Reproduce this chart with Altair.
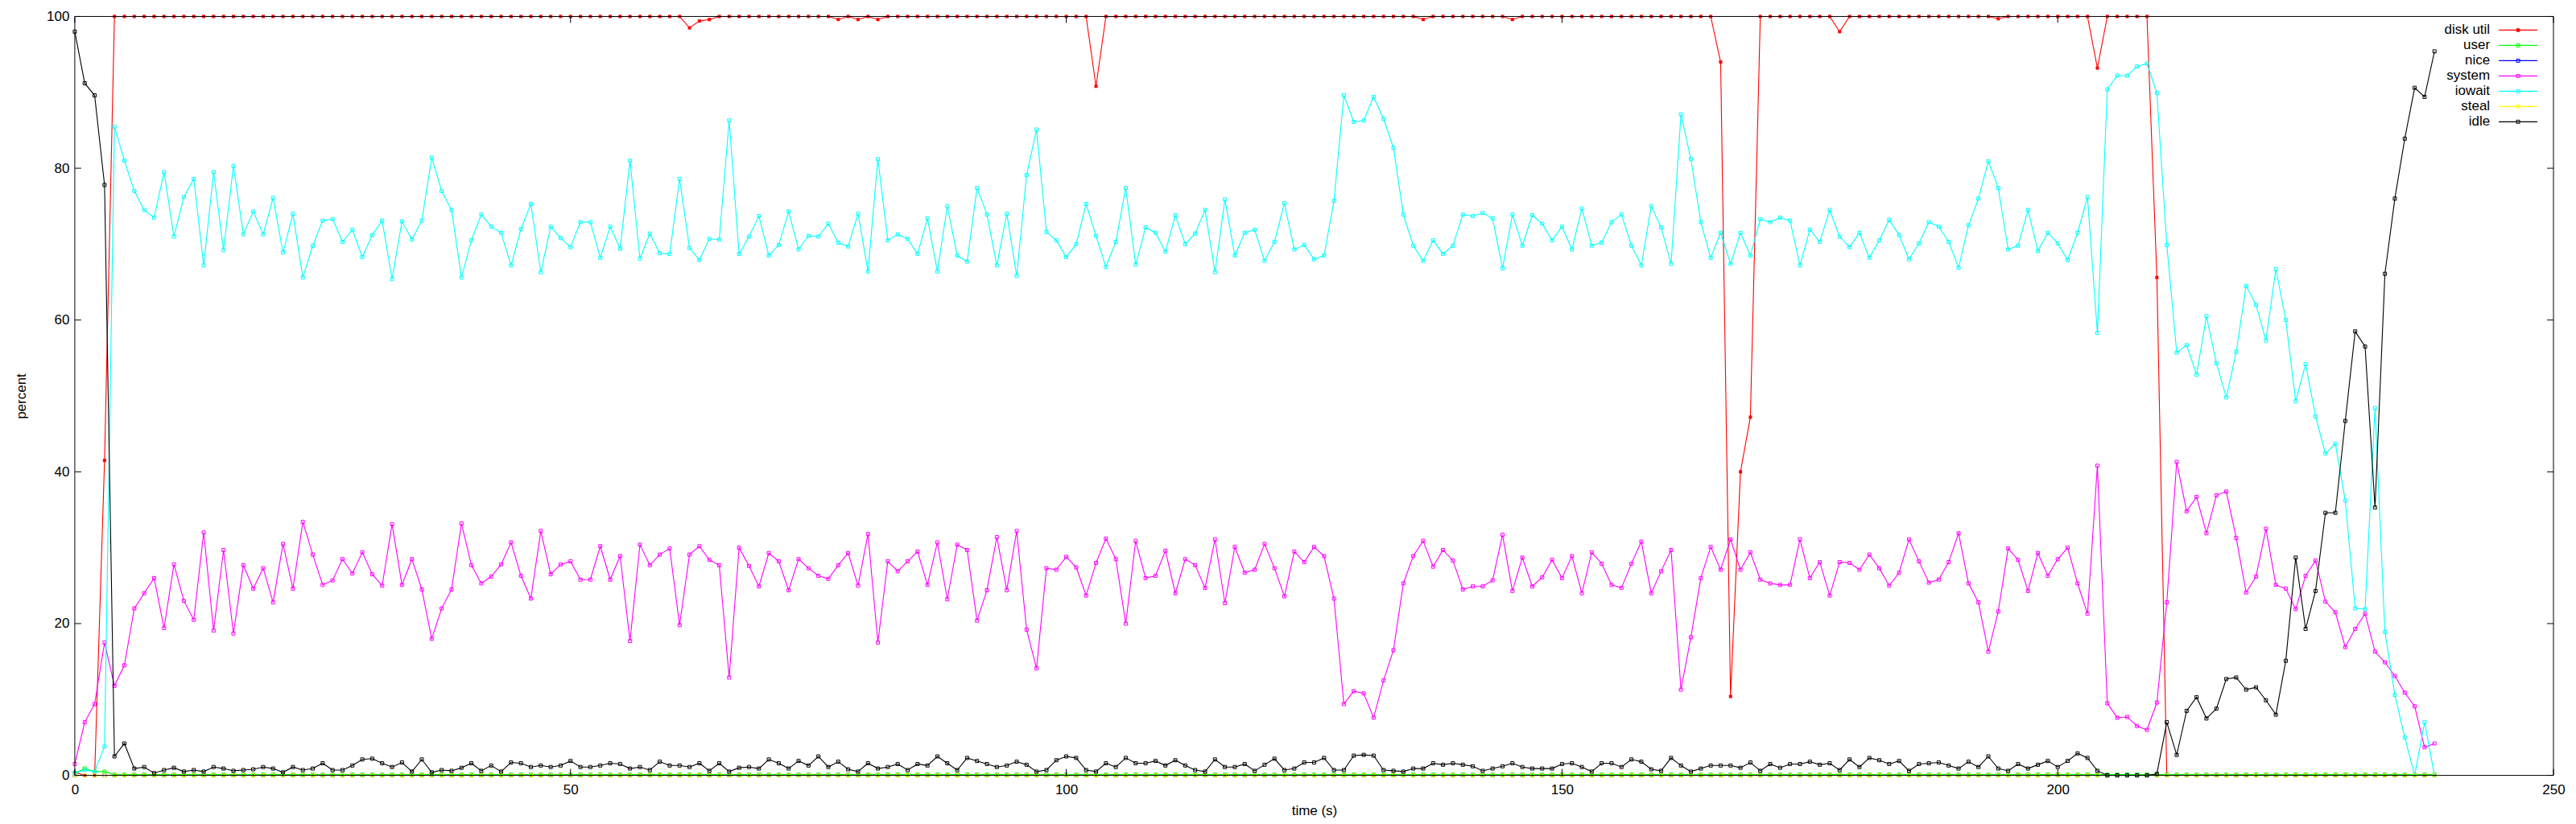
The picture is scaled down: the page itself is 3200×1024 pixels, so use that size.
import altair as alt
import pandas as pd

FONT = "Liberation Sans"

# time in seconds (one sample per second)
time_s = list(range(239))

series_names = ["disk util", "user", "nice", "system", "iowait", "steal", "idle"]
series_colors = ["#ff0000", "#00ff00", "#0000ff", "#ff00ff", "#00ffff", "#ffff00", "#000000"]

x_ticks = [0, 50, 100, 150, 200, 250]
y_ticks = [0, 20, 40, 60, 80, 100]

disk_util = [
    0.4, 0, 0, 41.5, 100, 100, 100, 100, 100, 100, 100, 100, 100, 100, 100, 100, 100, 100, 100, 100,
    100, 100, 100, 100, 100, 100, 100, 100, 100, 100, 100, 100, 100, 100, 100, 100, 100, 100, 100, 100,
    100, 100, 100, 100, 100, 100, 100, 100, 100, 100, 100, 100, 100, 100, 100, 100, 100, 100, 100, 100,
    100, 100, 98.5, 99.4, 99.6, 100, 100, 100, 100, 100, 100, 100, 100, 100, 100, 100, 100, 99.6, 100, 99.6,
    100, 99.6, 100, 100, 100, 100, 100, 100, 100, 100, 100, 100, 100, 100, 100, 100, 100, 100, 100, 100,
    100, 100, 100, 90.8, 100, 100, 100, 100, 100, 100, 100, 100, 100, 100, 100, 100, 100, 100, 100, 100,
    100, 100, 100, 100, 100, 100, 100, 100, 100, 100, 100, 100, 100, 100, 100, 100, 99.6, 100, 100, 100,
    100, 100, 100, 100, 100, 99.6, 100, 100, 100, 100, 100, 100, 100, 100, 100, 100, 100, 100, 100, 100,
    100, 100, 100, 100, 100, 100, 94.0, 10.4, 40.0, 47.2, 100, 100, 100, 100, 100, 100, 100, 100, 98.0, 100,
    100, 100, 100, 100, 100, 100, 100, 100, 100, 100, 100, 100, 100, 100, 99.7, 100, 100, 100, 100, 100,
    100, 100, 100, 100, 93.2, 100, 100, 100, 100, 100, 65.6, 0, 0, 0, 0, 0, 0, 0, 0, 0,
    0, 0, 0, 0, 0, 0, 0, 0, 0, 0, 0, 0, 0, 0, 0, 0, 0, 0, 0,
]

user = [
    0.3, 0.9, 0.5, 0.5, 0.1, 0.1, 0.1, 0.1, 0.1, 0.1, 0.1, 0.1, 0.1, 0.1, 0.1, 0.1, 0.1, 0.1, 0.1, 0.1,
    0.1, 0.1, 0.1, 0.1, 0.1, 0.1, 0.1, 0.1, 0.1, 0.1, 0.1, 0.1, 0.1, 0.1, 0.1, 0.1, 0.1, 0.1, 0.1, 0.1,
    0.1, 0.1, 0.1, 0.1, 0.1, 0.1, 0.1, 0.1, 0.1, 0.1, 0.1, 0.1, 0.1, 0.1, 0.1, 0.1, 0.1, 0.1, 0.1, 0.1,
    0.1, 0.1, 0.1, 0.1, 0.1, 0.1, 0.1, 0.1, 0.1, 0.1, 0.1, 0.1, 0.1, 0.1, 0.1, 0.1, 0.1, 0.1, 0.1, 0.1,
    0.1, 0.1, 0.1, 0.1, 0.1, 0.1, 0.1, 0.1, 0.1, 0.1, 0.1, 0.1, 0.1, 0.1, 0.1, 0.1, 0.1, 0.1, 0.1, 0.1,
    0.1, 0.1, 0.1, 0.1, 0.1, 0.1, 0.1, 0.1, 0.1, 0.1, 0.1, 0.1, 0.1, 0.1, 0.1, 0.1, 0.1, 0.1, 0.1, 0.1,
    0.1, 0.1, 0.1, 0.1, 0.1, 0.1, 0.1, 0.1, 0.1, 0.1, 0.1, 0.1, 0.1, 0.1, 0.1, 0.1, 0.1, 0.1, 0.1, 0.1,
    0.1, 0.1, 0.1, 0.1, 0.1, 0.1, 0.1, 0.1, 0.1, 0.1, 0.1, 0.1, 0.1, 0.1, 0.1, 0.1, 0.1, 0.1, 0.1, 0.1,
    0.1, 0.1, 0.1, 0.1, 0.1, 0.1, 0.1, 0.1, 0.1, 0.1, 0.1, 0.1, 0.1, 0.1, 0.1, 0.1, 0.1, 0.1, 0.1, 0.1,
    0.1, 0.1, 0.1, 0.1, 0.1, 0.1, 0.1, 0.1, 0.1, 0.1, 0.1, 0.1, 0.1, 0.1, 0.1, 0.1, 0.1, 0.1, 0.1, 0.1,
    0.1, 0.1, 0.1, 0.1, 0.1, 0.1, 0.1, 0.1, 0.1, 0.1, 0.1, 0.1, 0.1, 0.1, 0.1, 0.1, 0.1, 0.1, 0.1, 0.1,
    0.1, 0.1, 0.1, 0.1, 0.1, 0.1, 0.1, 0.1, 0.1, 0.1, 0.1, 0.1, 0.1, 0.1, 0.1, 0.1, 0.1, 0.1, 0.1,
]

nice = [
    0, 0, 0, 0, 0, 0, 0, 0, 0, 0, 0, 0, 0, 0, 0, 0, 0, 0, 0, 0,
    0, 0, 0, 0, 0, 0, 0, 0, 0, 0, 0, 0, 0, 0, 0, 0, 0, 0, 0, 0,
    0, 0, 0, 0, 0, 0, 0, 0, 0, 0, 0, 0, 0, 0, 0, 0, 0, 0, 0, 0,
    0, 0, 0, 0, 0, 0, 0, 0, 0, 0, 0, 0, 0, 0, 0, 0, 0, 0, 0, 0,
    0, 0, 0, 0, 0, 0, 0, 0, 0, 0, 0, 0, 0, 0, 0, 0, 0, 0, 0, 0,
    0, 0, 0, 0, 0, 0, 0, 0, 0, 0, 0, 0, 0, 0, 0, 0, 0, 0, 0, 0,
    0, 0, 0, 0, 0, 0, 0, 0, 0, 0, 0, 0, 0, 0, 0, 0, 0, 0, 0, 0,
    0, 0, 0, 0, 0, 0, 0, 0, 0, 0, 0, 0, 0, 0, 0, 0, 0, 0, 0, 0,
    0, 0, 0, 0, 0, 0, 0, 0, 0, 0, 0, 0, 0, 0, 0, 0, 0, 0, 0, 0,
    0, 0, 0, 0, 0, 0, 0, 0, 0, 0, 0, 0, 0, 0, 0, 0, 0, 0, 0, 0,
    0, 0, 0, 0, 0, 0, 0, 0, 0, 0, 0, 0, 0, 0, 0, 0, 0, 0, 0, 0,
    0, 0, 0, 0, 0, 0, 0, 0, 0, 0, 0, 0, 0, 0, 0, 0, 0, 0, 0,
]

system = [
    1.5, 7.0, 9.4, 17.5, 11.8, 14.5, 22.0, 24.0, 26.0, 19.4, 27.8, 23.0, 20.5, 32.0, 19.1, 29.7, 18.7, 27.7, 24.6, 27.3,
    22.8, 30.5, 24.6, 33.4, 29.1, 25.1, 25.7, 28.5, 26.6, 29.4, 26.5, 25.0, 33.1, 25.1, 28.5, 24.5, 18.0, 22.0, 24.5, 33.2,
    27.7, 25.3, 26.2, 27.8, 30.7, 26.3, 23.3, 32.2, 26.5, 27.8, 28.2, 25.8, 25.8, 30.2, 25.8, 28.9, 17.7, 30.4, 27.7, 29.1,
    29.9, 19.8, 29.1, 30.2, 28.4, 27.7, 12.9, 30.0, 27.6, 24.9, 29.3, 28.2, 24.4, 28.5, 27.3, 26.3, 25.9, 27.7, 29.3, 25.0,
    31.8, 17.5, 28.2, 26.9, 28.2, 29.5, 25.1, 30.7, 23.2, 30.4, 29.7, 20.4, 24.4, 31.4, 24.4, 32.2, 19.2, 14.1, 27.3, 27.1,
    28.8, 27.4, 23.7, 28.0, 31.2, 28.5, 20.0, 30.9, 26.0, 26.3, 29.6, 24.0, 28.5, 27.7, 24.7, 31.1, 22.7, 30.1, 26.7, 27.1,
    30.5, 27.3, 23.6, 29.5, 28.1, 30.1, 28.9, 23.3, 9.4, 11.1, 10.8, 7.6, 12.5, 16.5, 25.3, 28.9, 30.9, 27.5, 29.7, 28.3,
    24.5, 24.9, 24.9, 25.7, 31.7, 24.3, 28.7, 24.9, 26.1, 28.4, 26.0, 28.9, 24.0, 29.4, 27.9, 25.1, 24.7, 27.9, 30.8, 24.0,
    26.9, 29.7, 11.3, 18.2, 26.0, 30.1, 27.1, 31.1, 27.1, 29.4, 25.8, 25.3, 25.1, 25.1, 31.1, 26.0, 28.1, 23.7, 28.1, 28.0,
    27.1, 29.1, 27.3, 25.0, 26.7, 31.1, 28.2, 25.4, 25.8, 28.1, 31.9, 25.3, 22.8, 16.3, 21.6, 29.9, 28.4, 24.3, 29.3, 26.3,
    28.5, 30.0, 25.3, 21.3, 40.8, 9.5, 7.6, 7.7, 6.5, 6.0, 9.6, 22.8, 41.3, 34.8, 36.7, 31.9, 36.9, 37.4, 31.3, 24.1,
    26.2, 32.5, 25.1, 24.6, 21.9, 26.3, 28.3, 22.9, 21.5, 16.9, 19.3, 21.3, 16.3, 14.9, 13.1, 10.9, 9.1, 3.7, 4.2,
]

iowait = [
    0.3, 0.7, 0.5, 3.8, 85.5, 81.0, 77.0, 74.5, 73.5, 79.5, 71.0, 76.2, 78.6, 67.2, 79.5, 69.2, 80.3, 71.3, 74.3, 71.3,
    76.1, 68.9, 74.0, 65.6, 69.8, 73.1, 73.3, 70.3, 71.9, 68.3, 71.2, 73.1, 65.4, 73.0, 70.6, 73.1, 81.4, 77.0, 74.5, 65.6,
    70.5, 73.9, 72.3, 71.5, 67.2, 72.0, 75.3, 66.3, 72.3, 70.8, 69.6, 72.9, 72.9, 68.2, 72.3, 69.4, 81.0, 68.1, 71.4, 68.8,
    68.7, 78.6, 69.5, 67.9, 70.7, 70.6, 86.3, 68.7, 71.0, 73.7, 68.5, 69.9, 74.3, 69.3, 71.1, 71.0, 72.7, 70.2, 69.7, 74.0,
    66.4, 81.2, 70.5, 71.3, 70.7, 68.7, 73.4, 66.4, 75.0, 68.5, 67.7, 77.4, 73.9, 67.2, 74.0, 65.8, 79.1, 85.1, 71.6, 70.5,
    68.3, 70.0, 75.3, 71.1, 67.0, 70.3, 77.4, 67.3, 72.2, 71.5, 69.0, 73.8, 70.0, 71.4, 74.5, 66.3, 75.9, 68.5, 71.5, 71.9,
    67.8, 70.3, 75.4, 69.3, 69.9, 68.0, 68.5, 75.7, 89.6, 86.1, 86.3, 89.4, 86.5, 82.7, 73.9, 69.8, 67.8, 70.5, 68.7, 69.8,
    73.9, 73.7, 74.1, 73.4, 66.8, 73.9, 69.8, 73.8, 72.7, 70.5, 72.3, 69.3, 74.7, 69.8, 70.2, 72.9, 73.9, 69.8, 67.2, 75.0,
    72.2, 67.4, 87.1, 81.2, 72.9, 68.2, 71.5, 67.4, 71.5, 68.5, 73.3, 72.9, 73.5, 73.1, 67.2, 71.9, 70.3, 74.5, 71.0, 69.6,
    71.5, 68.2, 70.5, 73.2, 71.2, 68.0, 70.1, 72.9, 72.3, 70.3, 66.9, 72.5, 76.0, 80.9, 77.4, 69.3, 69.8, 74.5, 69.1, 71.5,
    70.1, 67.9, 71.5, 76.2, 58.3, 90.4, 92.2, 92.2, 93.4, 93.8, 89.9, 69.9, 55.7, 56.7, 52.8, 60.5, 54.3, 49.8, 55.8, 64.5,
    62.0, 57.3, 66.7, 60.0, 49.3, 54.2, 47.3, 42.4, 43.7, 36.2, 22.0, 21.9, 48.4, 18.9, 10.6, 5.0, 0.0, 7.0, 0.0,
]

steal = [
    0, 0, 0, 0, 0, 0, 0, 0, 0, 0, 0, 0, 0, 0, 0, 0, 0, 0, 0, 0,
    0, 0, 0, 0, 0, 0, 0, 0, 0, 0, 0, 0, 0, 0, 0, 0, 0, 0, 0, 0,
    0, 0, 0, 0, 0, 0, 0, 0, 0, 0, 0, 0, 0, 0, 0, 0, 0, 0, 0, 0,
    0, 0, 0, 0, 0, 0, 0, 0, 0, 0, 0, 0, 0, 0, 0, 0, 0, 0, 0, 0,
    0, 0, 0, 0, 0, 0, 0, 0, 0, 0, 0, 0, 0, 0, 0, 0, 0, 0, 0, 0,
    0, 0, 0, 0, 0, 0, 0, 0, 0, 0, 0, 0, 0, 0, 0, 0, 0, 0, 0, 0,
    0, 0, 0, 0, 0, 0, 0, 0, 0, 0, 0, 0, 0, 0, 0, 0, 0, 0, 0, 0,
    0, 0, 0, 0, 0, 0, 0, 0, 0, 0, 0, 0, 0, 0, 0, 0, 0, 0, 0, 0,
    0, 0, 0, 0, 0, 0, 0, 0, 0, 0, 0, 0, 0, 0, 0, 0, 0, 0, 0, 0,
    0, 0, 0, 0, 0, 0, 0, 0, 0, 0, 0, 0, 0, 0, 0, 0, 0, 0, 0, 0,
    0, 0, 0, 0, 0, 0, 0, 0, 0, 0, 0, 0, 0, 0, 0, 0, 0, 0, 0, 0,
    0, 0, 0, 0, 0, 0, 0, 0, 0, 0, 0, 0, 0, 0, 0, 0, 0, 0, 0,
]

idle = [
    98.0, 91.2, 89.6, 77.8, 2.5, 4.2, 0.9, 1.1, 0.3, 0.7, 1.0, 0.5, 0.7, 0.5, 1.1, 0.9, 0.6, 0.7, 0.8, 1.1,
    0.9, 0.4, 1.1, 0.7, 0.9, 1.6, 0.7, 0.7, 1.3, 2.1, 2.2, 1.6, 1.1, 1.7, 0.5, 2.1, 0.4, 0.7, 0.6, 1.0,
    1.6, 0.6, 1.3, 0.5, 1.7, 1.6, 1.1, 1.3, 1.1, 1.3, 1.9, 1.1, 1.1, 1.3, 1.6, 1.5, 0.9, 1.1, 0.7, 1.8,
    1.3, 1.3, 1.1, 1.6, 0.6, 1.6, 0.5, 1.0, 1.1, 0.9, 2.1, 1.6, 0.9, 1.9, 1.3, 2.5, 1.1, 1.8, 0.8, 0.5,
    1.6, 0.9, 1.1, 1.5, 0.7, 1.5, 1.3, 2.5, 1.6, 0.7, 2.3, 1.9, 1.5, 1.1, 1.3, 1.8, 1.4, 0.5, 0.7, 2.0,
    2.5, 2.3, 0.7, 0.5, 1.6, 1.1, 2.3, 1.6, 1.6, 1.9, 1.3, 2.0, 1.3, 0.7, 0.5, 2.1, 1.1, 1.1, 1.5, 0.6,
    1.4, 2.2, 0.7, 0.9, 1.7, 1.7, 2.3, 0.7, 0.7, 2.6, 2.7, 2.6, 0.7, 0.6, 0.5, 0.9, 0.9, 1.6, 1.4, 1.6,
    1.4, 1.2, 0.6, 0.9, 1.2, 1.6, 1.1, 0.9, 0.9, 0.9, 1.5, 1.6, 1.1, 0.5, 1.6, 1.6, 1.1, 2.1, 1.8, 0.8,
    0.6, 2.3, 1.3, 0.5, 0.9, 1.3, 1.3, 1.3, 1.0, 1.7, 0.6, 1.5, 1.0, 1.5, 1.5, 1.8, 1.4, 1.6, 0.7, 2.1,
    1.1, 2.3, 2.0, 1.5, 1.9, 0.6, 1.5, 1.6, 1.7, 1.3, 0.9, 1.8, 1.1, 2.5, 0.9, 0.6, 1.5, 0.9, 1.4, 1.9,
    1.1, 1.9, 2.9, 2.3, 0.6, 0.0, 0.0, 0.0, 0.0, 0.0, 0.2, 7.0, 2.7, 8.5, 10.3, 7.5, 8.8, 12.7, 12.9, 11.3,
    11.6, 9.9, 8.0, 15.1, 28.7, 19.3, 24.3, 34.6, 34.6, 46.7, 58.5, 56.5, 35.3, 66.1, 76.0, 83.9, 90.6, 89.4, 95.4,
]

series_values = [disk_util, user, nice, system, iowait, steal, idle]
for vals in series_values:
    assert len(vals) == len(time_s), len(vals)

rows = []
for name, vals in zip(series_names, series_values):
    for tt, vv in zip(time_s, vals):
        rows.append({"t": tt, "v": vv, "series": name})
df = pd.DataFrame(rows)

W, H = 3082, 944
TICK = 8

x_scale = alt.Scale(domain=[0, 250], nice=False, zero=False)
y_scale = alt.Scale(domain=[0, 100], nice=False, zero=False)
x_axis = alt.Axis(values=x_ticks, title="time (s)", labelPadding=10, titlePadding=10)
y_axis = alt.Axis(values=y_ticks, title="percent", labelPadding=7, titlePadding=22)

X = alt.X("t:Q", scale=x_scale, axis=x_axis)
Y = alt.Y("v:Q", scale=y_scale, axis=y_axis)

layers = []
for name, col in zip(series_names, series_colors):
    base = alt.Chart(df).transform_filter(alt.datum.series == name)
    layers.append(base.mark_line(color=col, strokeWidth=1.1).encode(x=X, y=Y))
    layers.append(
        base.mark_point(
            shape="square", size=16, filled=(name == "disk util"),
            color=col, strokeWidth=1, opacity=1
        ).encode(x=X, y=Y)
    )

xt_df = pd.DataFrame({"t": x_ticks})
yt_df = pd.DataFrame({"v": y_ticks})
xb_df = pd.DataFrame({"t": [0, 250]})
yb_df = pd.DataFrame({"v": [0, 100]})

# inward tick marks on all four sides (gnuplot style)
layers.append(alt.Chart(xt_df).mark_rule(color="black", strokeWidth=1).encode(
    x=X, y=alt.value(H - TICK), y2=alt.value(H)))
layers.append(alt.Chart(xt_df).mark_rule(color="black", strokeWidth=1).encode(
    x=X, y=alt.value(0), y2=alt.value(TICK)))
layers.append(alt.Chart(yt_df).mark_rule(color="black", strokeWidth=1).encode(
    y=Y, x=alt.value(0), x2=alt.value(TICK)))
layers.append(alt.Chart(yt_df).mark_rule(color="black", strokeWidth=1).encode(
    y=Y, x=alt.value(W - TICK), x2=alt.value(W)))
# frame drawn on top of the data
layers.append(alt.Chart(yb_df).mark_rule(color="black", strokeWidth=1).encode(
    y=Y, x=alt.value(0), x2=alt.value(W)))
layers.append(alt.Chart(xb_df).mark_rule(color="black", strokeWidth=1).encode(
    x=X, y=alt.value(0), y2=alt.value(H)))

main = alt.layer(*layers)

# key, top right inside the plot: label, then line sample with marker
leg_df = pd.DataFrame({"series": series_names})
LY = alt.Y("series:N", scale=alt.Scale(type="point", domain=series_names, range=[17, 131], padding=0), axis=None)
C = alt.Color("series:N", scale=alt.Scale(domain=series_names, range=series_colors), legend=None)

leg_text = alt.Chart(leg_df).mark_text(
    align="right", baseline="middle", font=FONT, fontSize=17, color="black"
).encode(y=LY, x=alt.value(3003), text="series:N")
leg_rule = alt.Chart(leg_df).mark_rule(strokeWidth=1.2).encode(
    y=LY, x=alt.value(3014), x2=alt.value(3062), color=C)
leg_pt_open = alt.Chart(leg_df).transform_filter(alt.datum.series != "disk util").mark_point(
    shape="square", size=16, filled=False, strokeWidth=1, opacity=1
).encode(y=LY, x=alt.value(3038), color=C)
leg_pt_fill = alt.Chart(leg_df).transform_filter(alt.datum.series == "disk util").mark_point(
    shape="square", size=20, filled=True, opacity=1
).encode(y=LY, x=alt.value(3038), color=C)

legend = alt.layer(leg_text, leg_rule, leg_pt_open, leg_pt_fill)

chart = alt.layer(main, legend).resolve_scale(y="independent").properties(
    width=W, height=H,
    autosize=alt.AutoSizeParams(type="none"),
    padding={"left": 85, "top": 12, "right": 20, "bottom": 52},
    background="white",
).configure_view(stroke=None).configure_axis(
    labelFont=FONT, titleFont=FONT, labelFontSize=17, titleFontSize=17,
    labelColor="black", titleColor="black", titleFontWeight="normal",
    domain=False, ticks=False, grid=False, labelFlush=False, labelOverlap=False,
)

chart.save("out.html", embed_options={"renderer": "svg", "actions": False})
